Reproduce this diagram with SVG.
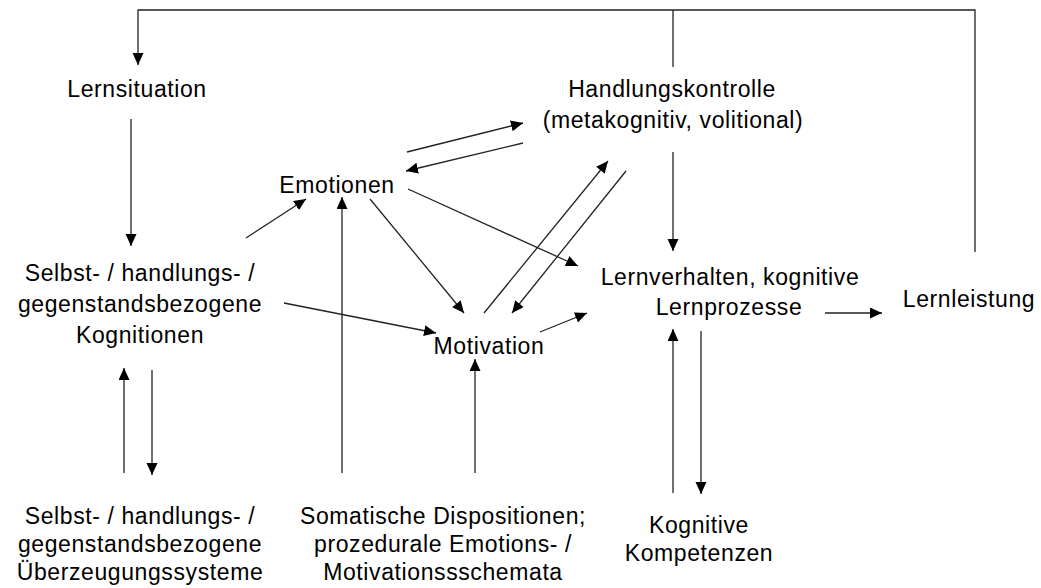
<svg xmlns="http://www.w3.org/2000/svg" width="1041" height="588" viewBox="0 0 1041 588">
  <style>
    .lbl { font-family: "Liberation Sans", Arial, sans-serif; font-size: 23px; letter-spacing: 0.6px; fill: #000; text-anchor: middle; }
    .ln { fill: none; stroke: #222; stroke-width: 1.3; }
    .arr { marker-end: url(#head); }
  </style>
  <defs>
    <marker id="head" markerUnits="userSpaceOnUse" markerWidth="13" markerHeight="12" refX="12" refY="5.5" orient="auto">
      <path d="M0,0 L12,5.5 L0,11 z" fill="#000"/>
    </marker>
  </defs>
  <rect width="1041" height="588" fill="#fff"/>

  <g id="connectors">
    <!-- feedback loop from Lernleistung back to Lernsituation -->
    <polyline class="ln arr" points="975,252 975,10 138,10 138,65"/>
    <line class="ln" x1="673" y1="10" x2="673" y2="67"/>
    <line class="ln arr" x1="673" y1="152" x2="673" y2="251"/>
    <!-- left column -->
    <line class="ln arr" x1="131" y1="119" x2="131" y2="246"/>
    <line class="ln arr" x1="124" y1="473" x2="124" y2="368"/>
    <line class="ln arr" x1="152" y1="370" x2="152" y2="475"/>
    <!-- cognitions to emotions / motivation -->
    <line class="ln arr" x1="246" y1="238" x2="306" y2="199"/>
    <line class="ln arr" x1="284" y1="303" x2="436" y2="333"/>
    <!-- emotions outgoing -->
    <line class="ln arr" x1="370" y1="199" x2="464" y2="313"/>
    <line class="ln arr" x1="408" y1="189" x2="578" y2="266"/>
    <line class="ln arr" x1="407" y1="152" x2="523" y2="123"/>
    <line class="ln arr" x1="523" y1="143" x2="406" y2="171"/>
    <!-- motivation and action control -->
    <line class="ln arr" x1="484" y1="313" x2="608" y2="161"/>
    <line class="ln arr" x1="626" y1="171" x2="512" y2="313"/>
    <line class="ln arr" x1="540" y1="332" x2="587" y2="313"/>
    <!-- dispositions upward -->
    <line class="ln arr" x1="342" y1="473" x2="342" y2="197"/>
    <line class="ln arr" x1="475" y1="473" x2="475" y2="359"/>
    <!-- competences -->
    <line class="ln arr" x1="673" y1="493" x2="673" y2="329"/>
    <line class="ln arr" x1="701" y1="331" x2="701" y2="494"/>
    <!-- behaviour to performance -->
    <line class="ln arr" x1="825" y1="313" x2="882" y2="313"/>
  </g>

  <g id="lernsituation">
    <text class="lbl" x="137" y="97">Lernsituation</text>
  </g>
  <g id="handlungskontrolle">
    <text class="lbl" x="672" y="97">Handlungskontrolle</text>
    <text class="lbl" x="673" y="128">(metakognitiv, volitional)</text>
  </g>
  <g id="emotionen">
    <text class="lbl" x="337" y="193">Emotionen</text>
  </g>
  <g id="kognitionen">
    <text class="lbl" x="140" y="281">Selbst- / handlungs- /</text>
    <text class="lbl" x="140" y="312">gegenstandsbezogene</text>
    <text class="lbl" x="140" y="343">Kognitionen</text>
  </g>
  <g id="motivation">
    <text class="lbl" x="489" y="354">Motivation</text>
  </g>
  <g id="lernverhalten">
    <text class="lbl" x="730" y="285">Lernverhalten, kognitive</text>
    <text class="lbl" x="729" y="315">Lernprozesse</text>
  </g>
  <g id="lernleistung">
    <text class="lbl" x="969" y="307">Lernleistung</text>
  </g>
  <g id="ueberzeugungssysteme">
    <text class="lbl" x="140" y="524">Selbst- / handlungs- /</text>
    <text class="lbl" x="140" y="552">gegenstandsbezogene</text>
    <text class="lbl" x="140" y="580">Überzeugungssysteme</text>
  </g>
  <g id="dispositionen">
    <text class="lbl" x="443" y="524">Somatische Dispositionen;</text>
    <text class="lbl" x="443" y="552">prozedurale Emotions- /</text>
    <text class="lbl" x="443" y="580">Motivationssschemata</text>
  </g>
  <g id="kompetenzen">
    <text class="lbl" x="699" y="533">Kognitive</text>
    <text class="lbl" x="699" y="561">Kompetenzen</text>
  </g>
</svg>
